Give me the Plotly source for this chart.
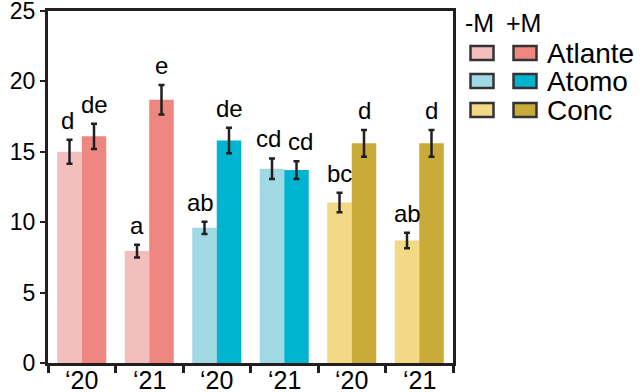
import plotly.graph_objects as go

categories = ["'20 Atlante", "'21 Atlante", "'20 Atomo", "'21 Atomo", "'20 Conc", "'21 Conc"]
tick_labels = ["‘20", "‘21", "‘20", "‘21", "‘20", "‘21"]
minus_m = [15.0, 7.95, 9.6, 13.8, 11.4, 8.7]
minus_err = [0.85, 0.45, 0.43, 0.73, 0.7, 0.55]
plus_m = [16.1, 18.7, 15.8, 13.7, 15.6, 15.6]
plus_err = [0.9, 1.05, 0.9, 0.63, 0.95, 0.95]
minus_letters = ["d", "a", "ab", "cd", "bc", "ab"]
plus_letters = ["de", "e", "de", "cd", "d", "d"]
genotypes = ["Atlante", "Atomo", "Conc"]
minus_colors = ["#F2BFBE", "#F2BFBE", "#A0D8E4", "#A0D8E4", "#F2D985", "#F2D985"]
plus_colors = ["#EE8780", "#EE8780", "#00B4CF", "#00B4CF", "#C9AB3A", "#C9AB3A"]
legend_minus = ["#F2BFBE", "#A0D8E4", "#F2D985"]
legend_plus = ["#EE8780", "#00B4CF", "#C9AB3A"]

DARK = "#231F20"
FONT = "Liberation Sans, Arial, sans-serif"
xpos = list(range(len(categories)))

fig = go.Figure()
fig.add_trace(go.Bar(x=xpos, y=minus_m, marker=dict(color=minus_colors, line=dict(width=0)),
                     error_y=dict(type="data", array=minus_err, color=DARK, thickness=2.5, width=3),
                     name="-M", showlegend=False))
fig.add_trace(go.Bar(x=xpos, y=plus_m, marker=dict(color=plus_colors, line=dict(width=0)),
                     error_y=dict(type="data", array=plus_err, color=DARK, thickness=2.5, width=3),
                     name="+M", showlegend=False))

# small pixel nudges for letters that sit close together
nudge_minus = {0: -2, 2: -4, 3: -4}
nudge_plus = {3: 4}

bw = (1 - 0.274) / 2
annotations = []
for i in xpos:
    annotations.append(dict(x=i - bw / 2, y=minus_m[i] + minus_err[i], text=minus_letters[i],
                            xref="x", yref="y", showarrow=False, yanchor="bottom", yshift=4,
                            xshift=nudge_minus.get(i, 0),
                            font=dict(size=24, color="black", family=FONT)))
    annotations.append(dict(x=i + bw / 2, y=plus_m[i] + plus_err[i], text=plus_letters[i],
                            xref="x", yref="y", showarrow=False, yanchor="bottom", yshift=4,
                            xshift=nudge_plus.get(i, 0),
                            font=dict(size=24, color="black", family=FONT)))
    # category (year) labels under each group
    annotations.append(dict(x=i, y=0, xref="x", yref="paper", text=tick_labels[i],
                            showarrow=False, yanchor="top", yshift=-1,
                            font=dict(size=25, color="black", family=FONT)))

# Custom legend (paper-pixel layout)
W, H = 644, 392
L, R, T, B = 48, 191, 11, 29
pw, ph = W - L - R, H - T - B

def px2x(px):
    return (px - L) / pw

def py2y(py):
    return 1 - (py - T) / ph

annotations.append(dict(x=px2x(479), y=py2y(23), xref="paper", yref="paper", text="-M",
                        showarrow=False, xanchor="center", yanchor="middle",
                        font=dict(size=25, color="black", family=FONT)))
annotations.append(dict(x=px2x(523), y=py2y(23), xref="paper", yref="paper", text="+M",
                        showarrow=False, xanchor="center", yanchor="middle",
                        font=dict(size=25, color="black", family=FONT)))
shapes = []
row_y = [53, 81, 110]
for k, g in enumerate(genotypes):
    cy = row_y[k]
    for cx, col in ((482, legend_minus[k]), (525, legend_plus[k])):
        shapes.append(dict(type="rect", xref="paper", yref="paper",
                           x0=px2x(cx - 11.5), x1=px2x(cx + 11.5),
                           y0=py2y(cy + 7), y1=py2y(cy - 7),
                           fillcolor=col, line=dict(color="#333333", width=2.5)))
    annotations.append(dict(x=px2x(545), y=py2y(cy), xref="paper", yref="paper", text=g,
                            showarrow=False, xanchor="left", yanchor="middle",
                            font=dict(size=28, color="black", family=FONT)))

fig.update_layout(
    width=W, height=H, autosize=False,
    margin=dict(l=L, r=R, t=T, b=B, pad=0, autoexpand=False),
    paper_bgcolor="white", plot_bgcolor="white",
    barmode="group", bargap=0.274, bargroupgap=0,
    annotations=annotations, shapes=shapes,
    font=dict(family=FONT, color="black"),
)
fig.update_xaxes(range=[-0.5, 5.5], tickvals=[-0.5, 0.5, 1.5, 2.5, 3.5, 4.5, 5.5],
                 ticktext=[""] * 7, ticks="outside", ticklen=7, tickwidth=2.5, tickcolor=DARK,
                 automargin=False,
                 showline=True, linecolor=DARK, linewidth=3, mirror=True, showgrid=False,
                 zeroline=False, fixedrange=True)
fig.update_yaxes(range=[0, 25], tickvals=[0, 5, 10, 15, 20, 25], ticks="outside", ticklen=5,
                 tickwidth=2, tickcolor=DARK, automargin=False, ticklabeloverflow="allow",
                 tickfont=dict(size=23, family=FONT, color="black"),
                 showline=True, linecolor=DARK, linewidth=3, mirror=True, showgrid=False,
                 zeroline=False, fixedrange=True)

fig.write_html("out.html", config={"displayModeBar": False},
               post_script="document.body.style.margin='0';document.body.style.overflow='hidden';")
